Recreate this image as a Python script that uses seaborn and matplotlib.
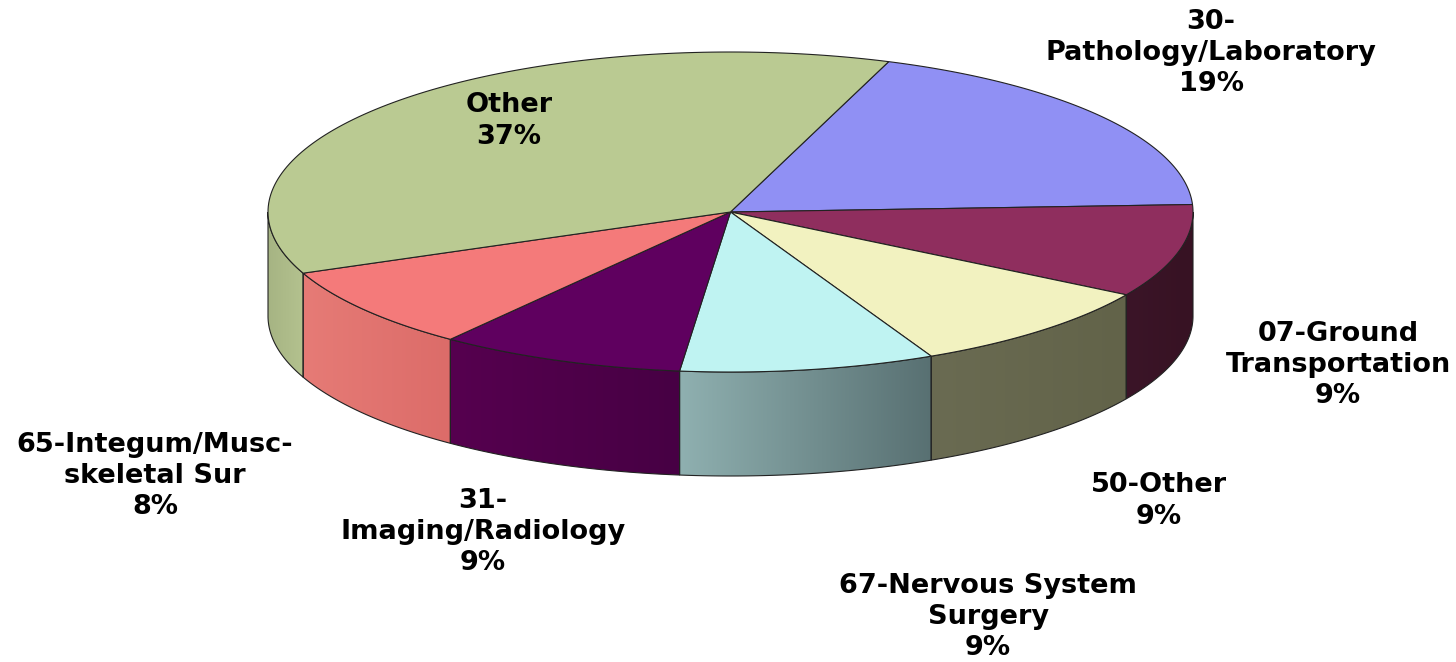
import numpy as np
import matplotlib
matplotlib.use("Agg")
import matplotlib.pyplot as plt
from matplotlib.patches import Polygon
import seaborn as sns

# slices in drawing order, clockwise from the back of the pie
names = ["30-\nPathology/Laboratory", "07-Ground\nTransportation", "50-Other",
         "67-Nervous System\nSurgery", "31-\nImaging/Radiology",
         "65-Integum/Musc-\nskeletal Sur", "Other"]
values = [18.7, 9.4, 9.2, 8.9, 8.6, 8.4, 36.8]
shown = [19, 9, 9, 9, 9, 8, 37]

top_colors = ["#9090f4", "#8f2e5e", "#f2f2c0", "#bff3f2", "#5f005f", "#f47a7a", "#bacA92"]
wall_left = ["#9090f4", "#3b1528", "#6a6b52", "#8fb0b0", "#56004f", "#e67b76", "#a6b483"]
wall_right = ["#9090f4", "#371223", "#626349", "#587072", "#470044", "#dc6c69", "#b4c28f"]

label_x = [1211, 1338, 1159, 988, 483, 155, 509]
label_y = [53, 365, 501, 617, 532, 476, 121]

cx, cy = 730.5, 212
rx, ry = 462.5, 160
depth = 104
start_angle = 70

sns.set_theme(style="white")
plt.rcParams["font.family"] = ["DejaVu Sans"]
sns.set_palette(top_colors)

fig, ax = plt.subplots(figsize=(14.56, 6.62), dpi=100)
fig.subplots_adjust(left=0, right=1, top=1, bottom=0)
ax.set_axis_off()


def rim(a0, a1, n=120):
    t = np.radians(np.linspace(a0, a1, n))
    return cx + rx * np.cos(t), cy - ry * np.sin(t)


def gradient(c0, c1):
    rgb0 = np.array(matplotlib.colors.to_rgb(c0))
    rgb1 = np.array(matplotlib.colors.to_rgb(c1))
    return np.linspace(rgb0, rgb1, 256)[None, :, :]


sweep = np.array(values) / sum(values) * 360
ends = start_angle - np.cumsum(sweep)
starts = ends + sweep

palette = sns.color_palette()
line = "#222222"

# walls first, only the part of each slice that faces the viewer
for i in range(len(values)):
    # angles below 0 are at the front, -180 to 0
    a_hi = min(starts[i], 0)
    a_lo = max(ends[i], -180)
    if a_hi <= a_lo:
        continue
    x, y = rim(a_lo, a_hi)
    pts = np.vstack([np.column_stack([x, y]), np.column_stack([x[::-1], y[::-1] + depth])])
    wall = Polygon(pts, closed=True, facecolor="none", edgecolor="none")
    ax.add_patch(wall)
    im = ax.imshow(gradient(wall_left[i], wall_right[i]), aspect="auto", interpolation="bilinear",
                   extent=(x.min(), x.max(), y.max() + depth, y.min()), zorder=1)
    im.set_clip_path(wall)
    ax.add_patch(Polygon(pts, closed=True, facecolor="none", edgecolor=line, linewidth=0.8, zorder=2))

# top of the pie
for i in range(len(values)):
    x, y = rim(starts[i], ends[i])
    pts = np.vstack([[cx, cy], np.column_stack([x, y])])
    ax.add_patch(Polygon(pts, closed=True, facecolor=palette[i], edgecolor=line, linewidth=0.8, zorder=3))

for i in range(len(values)):
    ax.text(label_x[i], label_y[i], f"{names[i]}\n{shown[i]}%", ha="center", va="center",
            fontsize=19.5, fontweight="bold", color="black", linespacing=1.26, zorder=4)

ax.set_xlim(0, 1456)
ax.set_ylim(662, 0)
fig.savefig("out.png", dpi=100, facecolor="white")
